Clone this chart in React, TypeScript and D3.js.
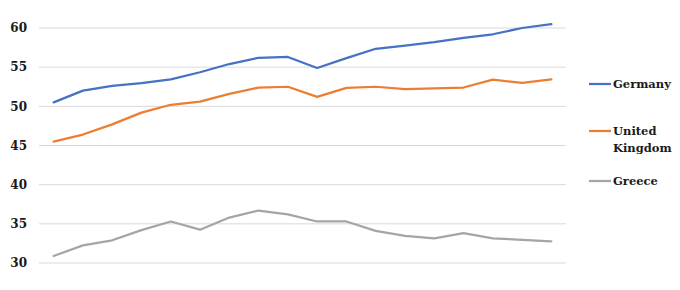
import React from "react";
import * as d3 from "d3";

const categories = ["2000","2001","2002","2003","2004","2005","2006","2007","2008","2009","2010","2011","2012","2013","2014","2015","2016","2017"];
const germany = [50.5, 52.0, 52.6, 52.95, 53.45, 54.35, 55.4, 56.2, 56.3, 54.9, 56.15, 57.35, 57.75, 58.2, 58.75, 59.2, 60.0, 60.5];
const unitedKingdom = [45.5, 46.4, 47.7, 49.2, 50.2, 50.6, 51.6, 52.4, 52.5, 51.2, 52.35, 52.5, 52.2, 52.3, 52.4, 53.4, 53.0, 53.45];
const greece = [30.9, 32.25, 32.9, 34.2, 35.3, 34.25, 35.8, 36.7, 36.2, 35.3, 35.3, 34.1, 33.45, 33.15, 33.8, 33.15, 32.95, 32.75];
const yTicks = [30, 35, 40, 45, 50, 55, 60];

const seriesNames = ["Germany", "United Kingdom", "Greece"];
const seriesLegend = [["Germany"], ["United", "Kingdom"], ["Greece"]];
const seriesValues = [germany, unitedKingdom, greece];
const seriesColors = ["#4472C4", "#ED7D31", "#A5A5A5"];

export default function App() {
  const W = 680, H = 290;
  const left = 39, right = 566, top = 28, bottom = 263;
  const x = d3.scaleBand<string>().domain(categories).range([left, right]);
  const y = d3.scaleLinear().domain([30, 60]).range([bottom, top]);
  const cx = (c: string) => (x(c) as number) + x.bandwidth() / 2;
  const line = d3.line<number>().x((_, i) => cx(categories[i])).y((v) => y(v));
  const font = "'DejaVu Serif', Georgia, serif";
  const legendY = [84, 131, 181];
  return (
    <svg width={W} height={H} style={{ position: "absolute", left: 0, top: 0, background: "#fff" }}>
      {yTicks.map((t) => (
        <g key={t}>
          <line x1={left} x2={right} y1={y(t)} y2={y(t)} stroke="#d9d9d9" strokeWidth={1} />
          <text x={27} y={y(t)} dy="0.36em" textAnchor="end" fontFamily={font} fontWeight="bold" fontSize={12} fill="#1a1a1a">
            {t}
          </text>
        </g>
      ))}
      {seriesValues.map((vals, i) => (
        <path key={seriesNames[i]} d={line(vals) || ""} fill="none" stroke={seriesColors[i]} strokeWidth={2.25} strokeLinejoin="round" strokeLinecap="round" />
      ))}
      {seriesNames.map((n, i) => (
        <g key={n}>
          <line x1={589} x2={611} y1={legendY[i]} y2={legendY[i]} stroke={seriesColors[i]} strokeWidth={2.25} />
          {seriesLegend[i].map((part, j) => (
            <text key={part} x={613} y={legendY[i] + j * 17} dy="0.36em" fontFamily={font} fontWeight="bold" fontSize={11.5} fill="#1a1a1a">
              {part}
            </text>
          ))}
        </g>
      ))}
    </svg>
  );
}
